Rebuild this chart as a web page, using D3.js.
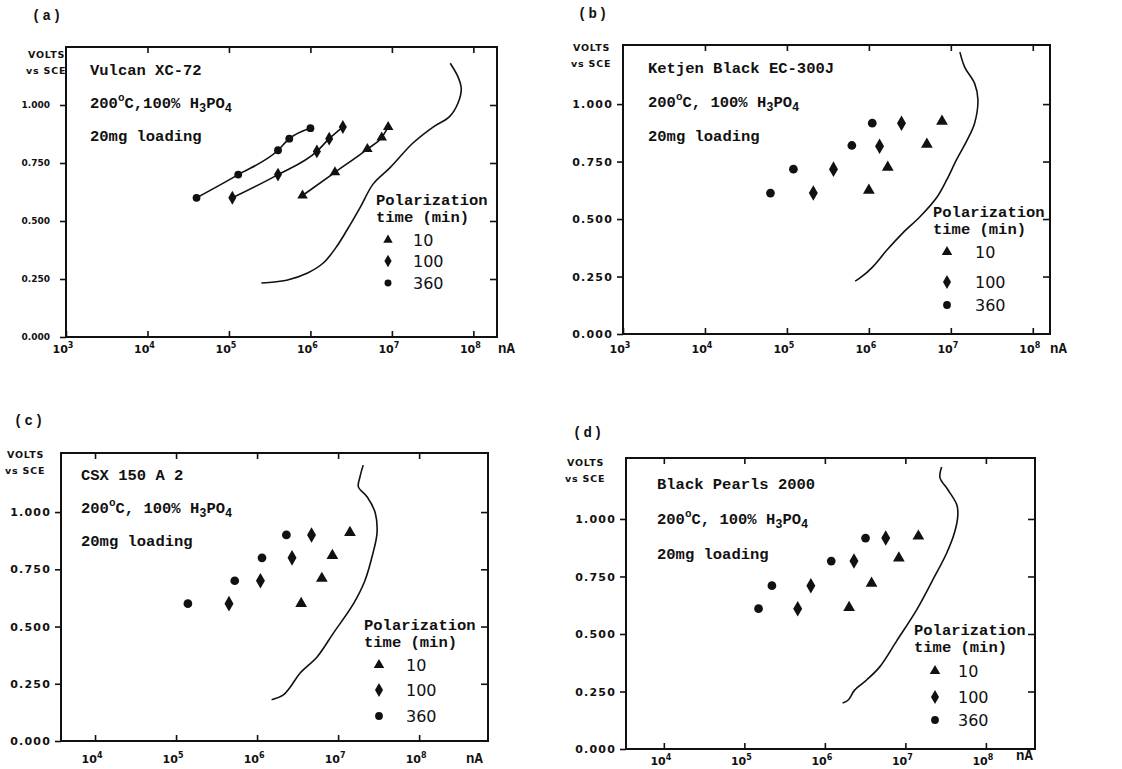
<!DOCTYPE html>
<html>
<head>
<meta charset="utf-8">
<script src="https://cdn.jsdelivr.net/npm/d3@7"></script>
<style>
  body { margin: 0; background: #fff; }
  text { fill: #111; }
</style>
</head>
<body>
<svg id="chart" width="1122" height="769"></svg>
<script>
// Data (current in nA, potential in volts vs SCE)
const seriesNames = ["10", "100", "360"];
const panelNames = ["(a)", "(b)", "(c)", "(d)"];
const materials = ["Vulcan XC-72", "Ketjen Black EC-300J", "CSX 150 A 2", "Black Pearls 2000"];
const yTicks = [0, 0.25, 0.5, 0.75, 1.0];

// (a) Vulcan XC-72
const aMin10 = [[8e5, 0.61], [2e6, 0.71], [5e6, 0.81], [7.5e6, 0.86], [9e6, 0.905]];
const aMin100 = [[1.1e5, 0.6], [4e5, 0.7], [1.2e6, 0.8], [1.7e6, 0.855], [2.5e6, 0.905]];
const aMin360 = [[4e4, 0.6], [1.3e5, 0.7], [4e5, 0.805], [5.5e5, 0.855], [1e6, 0.9]];
const aLimit = [[5.2e7, 1.18], [6.5e7, 1.12], [7.1e7, 1.07], [6.5e7, 1.01], [5.1e7, 0.95],
  [3.2e7, 0.905], [1.8e7, 0.835], [9.5e6, 0.73], [5.9e6, 0.66], [4.1e6, 0.56], [2.8e6, 0.46],
  [2.1e6, 0.39], [1.45e6, 0.32], [9.1e5, 0.275], [5.1e5, 0.245], [2.5e5, 0.233]];

// (b) Ketjen Black EC-300J
const bMin10 = [[1e6, 0.625], [1.7e6, 0.725], [5.1e6, 0.825], [7.8e6, 0.925]];
const bMin100 = [[2.1e5, 0.613], [3.7e5, 0.717], [1.35e6, 0.817], [2.5e6, 0.917]];
const bMin360 = [[6.3e4, 0.613], [1.2e5, 0.717], [6.2e5, 0.82], [1.1e6, 0.917]];
const bLimit = [[1.29e7, 1.226], [1.48e7, 1.16], [1.95e7, 1.09], [2.14e7, 1.02], [1.95e7, 0.917],
  [1.58e7, 0.843], [1.17e7, 0.757], [8.9e6, 0.67], [6.8e6, 0.596], [4.2e6, 0.51], [2.6e6, 0.44],
  [1.66e6, 0.365], [1.1e6, 0.29], [8.1e5, 0.248], [6.8e5, 0.23]];

// (c) CSX 150 A 2
const cMin10 = [[3.5e6, 0.6], [6.3e6, 0.71], [8.5e6, 0.81], [1.4e7, 0.91]];
const cMin100 = [[4.5e5, 0.6], [1.1e6, 0.7], [2.7e6, 0.8], [4.7e6, 0.9]];
const cMin360 = [[1.4e5, 0.6], [5.3e5, 0.7], [1.15e6, 0.8], [2.3e6, 0.9]];
const cLimit = [[2.04e7, 1.205], [1.86e7, 1.153], [1.78e7, 1.11], [2.29e7, 1.066], [2.88e7, 0.995],
  [3.02e7, 0.908], [2.69e7, 0.82], [2.14e7, 0.7], [1.55e7, 0.6], [8.7e6, 0.47], [5.5e6, 0.367],
  [3.4e6, 0.297], [2.57e6, 0.236], [2.09e6, 0.2], [1.51e6, 0.18]];

// (d) Black Pearls 2000
const dMin10 = [[2e6, 0.615], [3.8e6, 0.72], [8.3e6, 0.83], [1.45e7, 0.925]];
const dMin100 = [[4.6e5, 0.61], [6.7e5, 0.71], [2.3e6, 0.817], [5.7e6, 0.917]];
const dMin360 = [[1.5e5, 0.61], [2.2e5, 0.71], [1.2e6, 0.817], [3.2e6, 0.917]];
const dLimit = [[2.82e7, 1.226], [2.69e7, 1.18], [3.39e7, 1.126], [4.37e7, 1.06], [4.47e7, 1.01],
  [4.07e7, 0.94], [3.24e7, 0.85], [2.19e7, 0.735], [1.38e7, 0.605], [7.8e6, 0.47], [4.8e6, 0.357],
  [3.3e6, 0.3], [2.34e6, 0.256], [1.95e6, 0.213], [1.66e6, 0.2]];

const mono = "'Liberation Mono', 'DejaVu Sans Mono', monospace";
const sans = "'DejaVu Sans', sans-serif";

// panel layout
const panels = [
  { name: panelNames[0], material: materials[0], series: [aMin10, aMin100, aMin360], limit: aLimit, joined: true,
    box: [66, 47, 497, 337], xExp: [3, 8.29], yTop: 1.25, comma: ",", tickFont: 9, markSize: 0.8,
    nameAt: [32, 20], voltsAt: [28, 58], textAt: [90, 75, 33], legAt: [376, 205, 388, 413, [240, 261, 283]],
    xLabY: 353, nAAt: [498, 353] },
  { name: panelNames[1], material: materials[1], series: [bMin10, bMin100, bMin360], limit: bLimit, joined: false,
    box: [623, 45, 1050, 334], xExp: [3, 8.21], yTop: 1.257, comma: ", ", tickFont: 11, markSize: 1,
    nameAt: [578, 18], voltsAt: [573, 51], textAt: [648, 73, 34], legAt: [933, 217, 947, 975, [252, 282, 305]],
    xLabY: 353, nAAt: [1050, 353] },
  { name: panelNames[2], material: materials[2], series: [cMin10, cMin100, cMin360], limit: cLimit, joined: false,
    box: [61, 453, 488, 741], xExp: [3.58, 8.85], yTop: 1.258, comma: ", ", tickFont: 11, markSize: 1,
    nameAt: [14, 425], voltsAt: [7, 458], textAt: [81, 480, 33], legAt: [364, 630, 379, 406, [665, 690, 716]],
    xLabY: 763, nAAt: [466, 763] },
  { name: panelNames[3], material: materials[3], series: [dMin10, dMin100, dMin360], limit: dLimit, joined: false,
    box: [626, 458, 1035, 749], xExp: [3.53, 8.61], yTop: 1.265, comma: ", ", tickFont: 11, markSize: 1,
    nameAt: [573, 437], voltsAt: [567, 466], textAt: [657, 489, 35], legAt: [914, 635, 935, 958, [671, 697, 720]],
    xLabY: 765, nAAt: [1016, 760] }
];

const shapes = [d3.symbolTriangle, d3.symbolDiamond, d3.symbolCircle];
const shapeSize = [60, 70, 60];

const svg = d3.select("#chart");

panels.forEach(function (p) {
  const [x0, y0, x1, y1] = p.box;
  const x = d3.scaleLog().domain([Math.pow(10, p.xExp[0]), Math.pow(10, p.xExp[1])]).range([x0, x1]);
  const y = d3.scaleLinear().domain([0, p.yTop]).range([y1, y0]);
  const decades = d3.range(Math.ceil(p.xExp[0]), Math.floor(p.xExp[1]) + 1).map(e => Math.pow(10, e));

  const g = svg.append("g");

  // panel letter
  g.append("text").attr("x", p.nameAt[0]).attr("y", p.nameAt[1])
    .attr("font-family", mono).attr("font-weight", "bold").attr("font-size", 14)
    .attr("letter-spacing", 2).text(p.name);

  // frame
  g.append("rect").attr("x", x0).attr("y", y0).attr("width", x1 - x0).attr("height", y1 - y0)
    .attr("fill", "none").attr("stroke", "#111").attr("stroke-width", 2);

  // y axis (left, outward) with labels
  const yAxis = g.append("g").attr("transform", `translate(${x0},0)`)
    .call(d3.axisLeft(y).tickValues(yTicks).tickSize(6).tickPadding(p.tickFont < 10 ? 10 : 4)
      .tickFormat(d3.format(".3f")));
  yAxis.select(".domain").remove();
  yAxis.selectAll("line").attr("stroke", "#111").attr("stroke-width", 1.6);
  yAxis.selectAll("text").attr("font-family", sans).attr("font-weight", "bold")
    .attr("font-size", p.tickFont).attr("letter-spacing", p.tickFont < 10 ? 0 : 1.2).attr("fill", "#111");

  // right ticks (inward)
  const yRight = g.append("g").attr("transform", `translate(${x1},0)`)
    .call(d3.axisRight(y).tickValues(yTicks.filter(v => v > 0)).tickSize(-7).tickFormat(""));
  yRight.select(".domain").remove();
  yRight.selectAll("line").attr("stroke", "#111").attr("stroke-width", 1.6);

  // bottom axis (inward ticks)
  const xAxis = g.append("g").attr("transform", `translate(0,${y1})`)
    .call(d3.axisBottom(x).tickValues(decades).tickSizeInner(-6).tickSizeOuter(0).tickFormat(""));
  xAxis.select(".domain").remove();
  xAxis.selectAll("line").attr("stroke", "#111").attr("stroke-width", 1.6);

  // decade labels 10^n
  const xl = g.selectAll(".xlab").data(decades).enter().append("text").attr("class", "xlab")
    .attr("x", d => x(d) - 3).attr("y", p.xLabY).attr("text-anchor", "middle")
    .attr("font-family", sans).attr("font-weight", "bold").attr("font-size", 11);
  xl.append("tspan").text("10");
  xl.append("tspan").attr("font-size", 8).attr("dy", -5).text(d => Math.round(Math.log10(d)));
  g.append("text").attr("x", p.nAAt[0]).attr("y", p.nAAt[1]).attr("font-family", mono)
    .attr("font-weight", "bold").attr("font-size", 14).text("nA");

  // top ticks (inward)
  const xTop = g.append("g").attr("transform", `translate(0,${y0})`)
    .call(d3.axisTop(x).tickValues(decades.filter(d => x(d) > x0 + 2)).tickSizeInner(-6).tickSizeOuter(0).tickFormat(""));
  xTop.select(".domain").remove();
  xTop.selectAll("line").attr("stroke", "#111").attr("stroke-width", 1.6);

  // axis title
  const vt = g.append("text").attr("font-family", sans).attr("font-weight", "bold")
    .attr("font-size", 9.5).attr("letter-spacing", 0.8);
  vt.append("tspan").attr("x", p.voltsAt[0]).attr("y", p.voltsAt[1]).text("VOLTS");
  vt.append("tspan").attr("x", p.voltsAt[0] - 2).attr("y", p.voltsAt[1] + 16).text("vs SCE");

  // description text
  const [tx, ty, tdy] = p.textAt;
  const tfont = { "font-family": mono, "font-weight": "bold", "font-size": 15.5 };
  const t1 = g.append("text").attr("x", tx).attr("y", ty).text(p.material);
  const t2 = g.append("text").attr("x", tx).attr("y", ty + tdy);
  t2.append("tspan").text("200");
  t2.append("tspan").attr("font-size", 11).attr("dy", -7).text("o");
  t2.append("tspan").attr("dy", 7).text("C" + p.comma + "100% H");
  t2.append("tspan").attr("font-size", 12).attr("dy", 4).text("3");
  t2.append("tspan").attr("dy", -4).text("PO");
  t2.append("tspan").attr("font-size", 12).attr("dy", 4).text("4");
  const t3 = g.append("text").attr("x", tx).attr("y", ty + 2 * tdy).text("20mg loading");
  [t1, t2, t3].forEach(t => Object.entries(tfont).forEach(([k, v]) => t.attr(k, v)));

  // limiting curve
  const line = d3.line().x(d => x(d[0])).y(d => y(d[1])).curve(d3.curveCatmullRom.alpha(0.5));
  g.append("path").datum(p.limit).attr("d", line).attr("fill", "none")
    .attr("stroke", "#111").attr("stroke-width", 1.6);

  // series
  p.series.forEach(function (s, i) {
    if (p.joined) {
      g.append("path").datum(s).attr("d", d3.line().x(d => x(d[0])).y(d => y(d[1])).curve(d3.curveMonotoneX))
        .attr("fill", "none").attr("stroke", "#111").attr("stroke-width", 1.6);
    }
    g.selectAll(".pt" + i).data(s).enter().append("path").attr("class", "pt" + i)
      .attr("transform", d => `translate(${x(d[0])},${y(d[1])})`)
      .attr("d", d3.symbol().type(shapes[i]).size(shapeSize[i] * p.markSize))
      .attr("fill", "#111");
  });

  // legend
  const [lx, ly, mx, vx, rows] = p.legAt;
  g.append("text").attr("x", lx).attr("y", ly).attr("font-family", mono).attr("font-weight", "bold")
    .attr("font-size", 15.5).text("Polarization");
  g.append("text").attr("x", lx).attr("y", ly + 17).attr("font-family", mono).attr("font-weight", "bold")
    .attr("font-size", 15.5).text("time (min)");
  seriesNames.forEach(function (n, i) {
    g.append("path").attr("transform", `translate(${mx},${rows[i]})`)
      .attr("d", d3.symbol().type(shapes[i]).size(shapeSize[i] * p.markSize * 0.8)).attr("fill", "#111");
    g.append("text").attr("x", vx).attr("y", rows[i] + 6).attr("font-family", sans)
      .attr("font-size", 16).text(n);
  });
});
</script>
</body>
</html>
